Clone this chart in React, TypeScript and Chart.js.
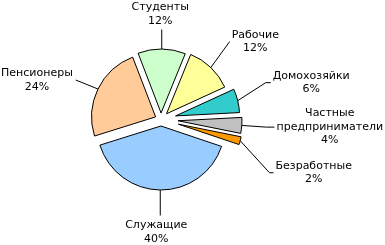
import React, { useEffect, useRef } from 'react';
import { Chart, registerables } from 'chart.js';

Chart.register(...registerables);

// ---- data ----
const categories = ['Студенты', 'Рабочие', 'Домохозяйки', 'Частные предприниматели', 'Безработные', 'Служащие', 'Пенсионеры'];
const labelLines = [['Студенты'], ['Рабочие'], ['Домохозяйки'], ['Частные', 'предприниматели'], ['Безработные'], ['Служащие'], ['Пенсионеры']];
const shares = [12, 12, 6, 4, 2, 40, 24];

// ---- styles / layout ----
const colors = ['#CCFFCC', '#FFFF99', '#33CCCC', '#C0C0C0', '#FF9900', '#99CCFF', '#FFCC99'];
const explode = [6.5, 8, 15, 17, 18, 6.5, 6];
// label block centre shift relative to the slice's outer edge point
const labelShift: [number, number][] = [[-1.5, -35], [44.5, -26], [73.5, -18], [88, 1.7], [73.5, 32], [-4, 42], [-61, -9]];
const labelAttach = ['bottom', 'left', 'left', 'left', 'left', 'top', 'right'];
const leaderTick = [0, 0, 5, 8, 4, 0, 0];
const FONT = '11px "DejaVu Sans"';
const LINE_H = 13.5;

const explodePlugin = {
  id: 'explodeArcs',
  beforeDatasetDraw(chart: any, args: any) {
    const ctx = chart.ctx;
    args.meta.data.forEach((arc: any, i: number) => {
      const mid = (arc.startAngle + arc.endAngle) / 2;
      const d = explode[i] || 0;
      ctx.save();
      ctx.translate(Math.cos(mid) * d, Math.sin(mid) * d);
      arc.draw(ctx);
      ctx.restore();
    });
    return false;
  },
};

const labelPlugin = {
  id: 'pieLabels',
  afterDatasetsDraw(chart: any) {
    const ctx = chart.ctx;
    const meta = chart.getDatasetMeta(0);
    const total = shares.reduce((a, b) => a + b, 0);
    ctx.save();
    ctx.font = FONT;
    ctx.fillStyle = '#000';
    ctx.strokeStyle = '#000';
    ctx.lineWidth = 1;
    ctx.textAlign = 'center';
    ctx.textBaseline = 'middle';
    meta.data.forEach((arc: any, i: number) => {
      const mid = (arc.startAngle + arc.endAngle) / 2;
      const rr = arc.outerRadius + (explode[i] || 0);
      const ex = arc.x + Math.cos(mid) * rr;
      const ey = arc.y + Math.sin(mid) * rr;
      const lines = [...labelLines[i], Math.round((shares[i] / total) * 100) + '%'];
      const cx = ex + labelShift[i][0];
      const cy = ey + labelShift[i][1];
      const h = lines.length * LINE_H;
      const w = Math.max(...lines.map((l) => ctx.measureText(l).width));
      const top = cy - h / 2;
      lines.forEach((l, k) => ctx.fillText(l, cx, top + LINE_H * (k + 0.5)));
      // leader line
      const a = labelAttach[i];
      const t = leaderTick[i];
      ctx.beginPath();
      ctx.moveTo(ex, ey);
      if (a === 'bottom') ctx.lineTo(ex, top + h + 2);
      else if (a === 'top') ctx.lineTo(ex, top - 3);
      else if (a === 'left') {
        const lx = cx - w / 2 - 2;
        ctx.lineTo(lx - t, cy);
        ctx.lineTo(lx, cy);
      } else {
        const rx = cx + w / 2 + 3;
        ctx.lineTo(rx + t, cy);
        ctx.lineTo(rx, cy);
      }
      ctx.stroke();
    });
    ctx.restore();
  },
};

export default function App() {
  const ref = useRef<HTMLCanvasElement>(null);
  useEffect(() => {
    if (!ref.current) return;
    const chart = new Chart(ref.current, {
      type: 'pie',
      data: {
        labels: categories,
        datasets: [
          {
            data: shares,
            backgroundColor: colors,
            borderColor: '#000',
            borderWidth: 1,
          },
        ],
      },
      options: {
        responsive: false,
        animation: false,
        rotation: -21,
        radius: 64,
        layout: { padding: { left: 0, right: 63, top: 0, bottom: 6 } },
        plugins: { legend: { display: false }, tooltip: { enabled: false } },
        events: [],
      },
      plugins: [explodePlugin, labelPlugin],
    });
    return () => chart.destroy();
  }, []);
  return (
    <div style={{ position: 'absolute', left: 0, top: 0, width: 385, height: 245, background: '#fff' }}>
      <canvas ref={ref} width={385} height={245} />
    </div>
  );
}
